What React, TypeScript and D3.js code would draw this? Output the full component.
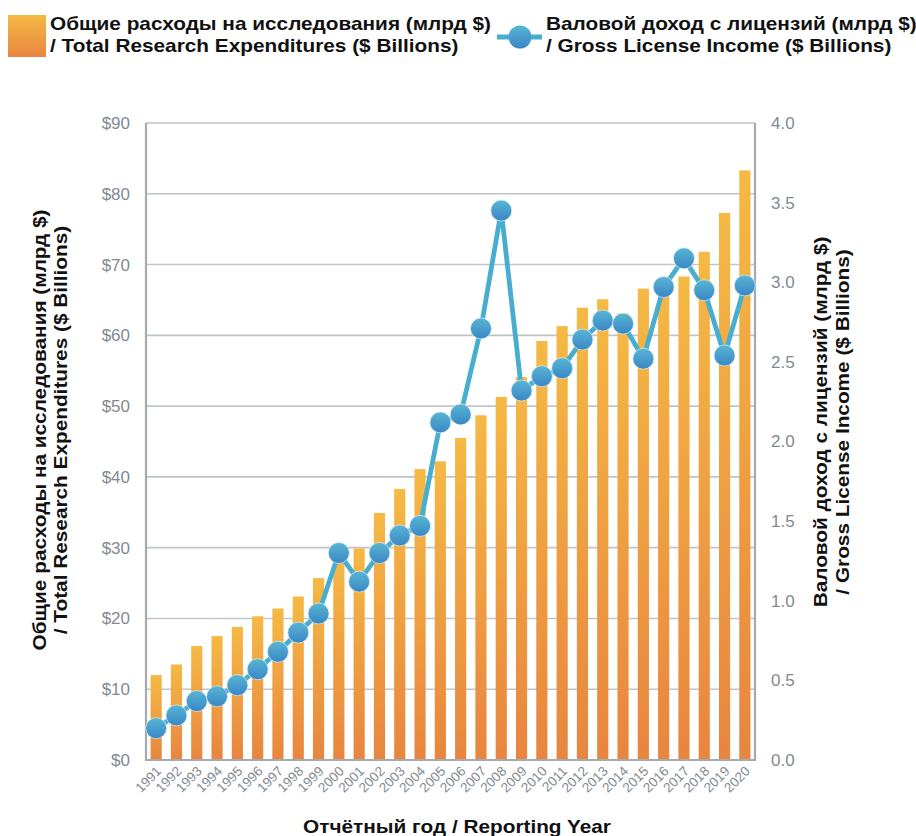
import React from "react";
import * as d3 from "d3";

const years = ["1991","1992","1993","1994","1995","1996","1997","1998","1999","2000","2001","2002","2003","2004","2005","2006","2007","2008","2009","2010","2011","2012","2013","2014","2015","2016","2017","2018","2019","2020"];
const researchExp = [12.0,13.5,16.1,17.5,18.8,20.3,21.4,23.1,25.7,28.6,29.9,34.9,38.3,41.1,42.2,45.5,48.7,51.3,54.1,59.2,61.3,63.9,65.1,63.1,66.6,67.8,68.3,71.8,77.3,83.3];
const licenseIncome = [0.20,0.28,0.37,0.40,0.47,0.57,0.68,0.80,0.92,1.30,1.12,1.30,1.41,1.47,2.12,2.17,2.71,3.45,2.32,2.41,2.46,2.64,2.76,2.74,2.52,2.97,3.15,2.95,2.54,2.98];
const leftTicks = [0,10,20,30,40,50,60,70,80,90];
const rightTicks = [0,0.5,1.0,1.5,2.0,2.5,3.0,3.5,4.0];

const legendBar = ["Общие расходы на исследования (млрд $)", "/ Total Research Expenditures ($ Billions)"];
const legendLine = ["Валовой доход с лицензий (млрд $)", "/ Gross License Income ($ Billions)"];
const leftTitle = ["Общие расходы на исследования (млрд $)", "/ Total Research Expenditures ($ Billions)"];
const rightTitle = ["Валовой доход с лицензий (млрд $)", "/ Gross License Income ($ Billions)"];
const xTitle = "Отчётный год / Reporting Year";

const W = 916, H = 836;
const M = { left: 146, right: 755, top: 123, bottom: 760 };
const FONT = "'Liberation Sans', Arial, sans-serif";
const TICK = "#7f8a93";
const SX = 1.155;

export default function App() {
  const x = d3.scaleBand<string>().domain(years).range([M.left, M.right]).paddingInner(0.45).paddingOuter(0.225);
  const yL = d3.scaleLinear().domain([0, 90]).range([M.bottom, M.top]);
  const yR = d3.scaleLinear().domain([0, 4]).range([M.bottom, M.top]);
  const cx = (y: string) => (x(y) as number) + x.bandwidth() / 2;
  const line = d3.line<number>().x((_, i) => cx(years[i])).y((d) => yR(d));

  return (
    <svg width={W} height={H} style={{ position: "absolute", left: 0, top: 0, background: "#fff" }} fontFamily={FONT}>
      <defs>
        <linearGradient id="barG" x1="0" y1="0" x2="0" y2="1">
          <stop offset="0" stopColor="#f5b944" />
          <stop offset="1" stopColor="#e8853f" />
        </linearGradient>
        <linearGradient id="dotG" x1="0" y1="0" x2="0" y2="1">
          <stop offset="0" stopColor="#58b6d3" />
          <stop offset="1" stopColor="#3a86c6" />
        </linearGradient>
      </defs>

      {/* gridlines */}
      {leftTicks.map((t) => (
        <line key={"g" + t} x1={M.left} x2={M.right} y1={yL(t)} y2={yL(t)} stroke="#c0c5c9" strokeWidth={1.6} />
      ))}

      {/* bars */}
      {researchExp.map((v, i) => (
        <rect key={"b" + i} x={x(years[i])} y={yL(v)} width={x.bandwidth()} height={yL(0) - yL(v)} fill="url(#barG)" />
      ))}

      {/* axes */}
      <line x1={M.left} x2={M.left} y1={M.top} y2={M.bottom + 1} stroke="#a3abb1" strokeWidth={2.2} />
      <line x1={M.right} x2={M.right} y1={M.top} y2={M.bottom + 1} stroke="#a3abb1" strokeWidth={2.2} />
      <line x1={M.left} x2={M.right} y1={M.bottom} y2={M.bottom} stroke="#a3abb1" strokeWidth={2.2} />

      {/* line series */}
      <path d={line(licenseIncome) || ""} fill="none" stroke="#48aed0" strokeWidth={4.8} strokeLinejoin="round" />
      {licenseIncome.map((v, i) => (
        <circle key={"c" + i} cx={cx(years[i])} cy={yR(v)} r={10.5} fill="url(#dotG)" stroke="#dff0f7" strokeOpacity={0.7} strokeWidth={1} />
      ))}

      {/* left ticks */}
      {leftTicks.map((t) => (
        <text key={"lt" + t} x={130} y={yL(t)} dy="0.35em" textAnchor="end" fontSize={17} fill={TICK}>{"$" + t}</text>
      ))}
      {/* right ticks */}
      {rightTicks.map((t) => (
        <text key={"rt" + t} x={771} y={yR(t)} dy="0.35em" textAnchor="start" fontSize={17} fill={TICK}>{t.toFixed(1)}</text>
      ))}
      {/* x ticks */}
      {years.map((y) => (
        <text key={"xt" + y} transform={`translate(${cx(y) + 6},${M.bottom + 12}) rotate(-45)`} textAnchor="end" fontSize={13.5} fill={TICK}>{y}</text>
      ))}

      {/* axis titles */}
      <text transform={`translate(457,832.5) scale(${SX},1)`} textAnchor="middle" fontSize={18} fontWeight="bold" fill="#111">{xTitle}</text>
      {leftTitle.map((t, i) => (
        <text key={"lT" + i} transform={`translate(${46 + i * 21},430) rotate(-90) scale(${SX},1)`} textAnchor="middle" fontSize={18} fontWeight="bold" fill="#111">{t}</text>
      ))}
      {rightTitle.map((t, i) => (
        <text key={"rT" + i} transform={`translate(${827 + i * 22},422) rotate(-90) scale(${SX},1)`} textAnchor="middle" fontSize={18} fontWeight="bold" fill="#111">{t}</text>
      ))}

      {/* legend */}
      <rect x={8} y={15} width={38} height={42} fill="url(#barG)" />
      {legendBar.map((t, i) => (
        <text key={"lb" + i} transform={`translate(50,${30 + i * 22}) scale(${SX},1)`} fontSize={18} fontWeight="bold" fill="#111">{t}</text>
      ))}
      <line x1={497} x2={542} y1={37} y2={37} stroke="#48aed0" strokeWidth={4.8} />
      <circle cx={520} cy={37} r={11.5} fill="url(#dotG)" />
      {legendLine.map((t, i) => (
        <text key={"ll" + i} transform={`translate(546,${30 + i * 22}) scale(${SX},1)`} fontSize={18} fontWeight="bold" fill="#111">{t}</text>
      ))}
    </svg>
  );
}
